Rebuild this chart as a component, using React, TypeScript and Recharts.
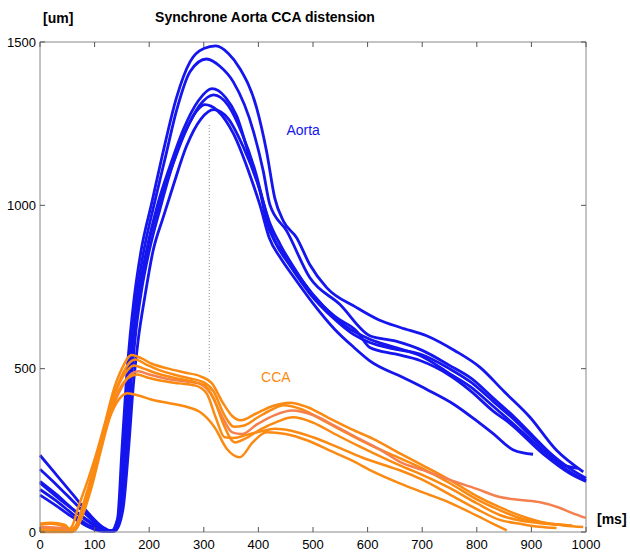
import React from 'react';
import { LineChart, Line, XAxis, YAxis, ReferenceLine, ReferenceDot } from 'recharts';

// [ms, um] points
const aortaA = [[0,150],[40,95],[80,45],[110,12],[130,2],[142,40],[150,250],[158,460],[165,600],[172,710],[185,860],[205,1010],[225,1160],[250,1330],[275,1440],[300,1480],[322,1488],[345,1465],[366,1419],[397,1297],[415,1165],[430,1022],[446,951],[470,901],[494,819],[525,748],[580,687],[620,650],[660,626],[708,601],[760,555],[806,504],[850,430],[897,352],[946,250],[995,184]];
const aortaB = [[0,235],[30,175],[60,115],[90,55],[115,15],[132,3],[144,50],[152,250],[160,470],[168,620],[178,740],[190,860],[210,1010],[230,1150],[250,1290],[275,1410],[305,1448],[330,1425],[354,1378],[391,1226],[409,1104],[421,1002],[452,921],[494,779],[549,697],[604,601],[650,585],[700,556],[750,510],[790,470],[830,410],[870,350],[920,265],[960,205],[985,195]];
const aortaC = [[0,192],[30,145],[60,95],[90,45],[115,10],[135,3],[148,60],[156,260],[164,480],[172,620],[182,740],[195,860],[215,1000],[238,1120],[262,1230],[290,1320],[315,1357],[340,1330],[360,1275],[385,1140],[403,1043],[415,950],[433,880],[458,815],[494,730],[537,655],[574,605],[604,580],[650,560],[696,545],[750,500],[788,460],[830,400],[861,355],[921,260],[970,195],[1000,165]];
const aortaD = [[0,113],[30,80],[60,45],[90,15],[115,2],[135,5],[150,80],[158,270],[166,480],[174,630],[184,750],[197,870],[218,1000],[240,1110],[265,1220],[292,1305],[318,1338],[345,1305],[370,1220],[395,1100],[412,990],[428,900],[450,845],[480,770],[520,690],[560,630],[604,590],[650,565],[696,540],[750,485],[788,445],[830,385],[861,340],[921,250],[970,185],[1000,158]];
const aortaE = [[0,155],[30,115],[60,70],[90,30],[115,6],[135,2],[150,70],[160,280],[168,480],[176,620],[186,740],[200,860],[220,990],[244,1130],[270,1240],[290,1295],[302,1308],[325,1290],[354,1220],[385,1090],[403,1000],[420,900],[440,840],[465,780],[500,700],[540,620],[575,565],[604,524],[665,473],[710,435],[757,392],[800,340],[830,301],[866,252],[885,242],[903,238]];
const aortaF = [[0,130],[30,95],[60,55],[90,20],[118,3],[138,5],[152,70],[162,250],[171,450],[180,590],[192,720],[207,860],[225,960],[244,1060],[268,1180],[295,1265],[318,1293],[345,1265],[372,1180],[400,1060],[420,950],[440,880],[465,810],[500,725],[540,660],[580,615],[604,565],[650,545],[696,525],[750,480],[788,433],[830,370],[861,332],[921,240],[970,180],[1000,155]];

const ccaA = [[0,22],[20,25],[40,20],[52,8],[58,15],[70,75],[90,170],[105,250],[120,340],[134,430],[150,500],[168,542],[185,532],[205,515],[235,500],[265,488],[295,476],[315,455],[335,395],[352,355],[368,342],[395,362],[425,385],[458,396],[490,382],[530,348],[570,315],[610,285],[659,241],[700,205],[750,160],[800,110],[842,76],[880,50],[920,30],[960,20],[995,15]];
const ccaB = [[0,12],[25,10],[50,6],[62,3],[70,20],[85,95],[100,190],[115,290],[130,390],[145,460],[160,510],[175,528],[192,515],[215,498],[245,482],[275,470],[300,458],[318,430],[337,360],[356,322],[372,325],[400,352],[425,375],[446,388],[480,375],[520,340],[565,300],[610,262],[659,226],[700,195],[750,150],[800,100],[842,67],[880,42],[920,28],[965,21]];
const ccaC = [[0,15],[25,14],[50,10],[60,4],[68,15],[85,100],[102,200],[118,300],[135,390],[152,450],[168,485],[180,492],[200,482],[230,470],[260,462],[290,455],[312,425],[333,355],[352,305],[370,300],[398,330],[430,358],[462,372],[500,358],[540,325],[585,285],[625,250],[659,215],[700,190],[750,160],[800,132],[842,107],[880,98],[916,91],[950,75],[975,58],[1000,43]];
const ccaD = [[0,5],[30,4],[55,2],[65,8],[80,70],[95,160],[110,250],[126,350],[142,425],[160,470],[178,482],[198,472],[225,462],[255,455],[285,448],[305,425],[322,350],[338,290],[355,288],[380,298],[405,308],[430,316],[460,310],[500,290],[545,260],[590,228],[630,205],[659,189],[700,160],[750,115],[800,70],[842,37],[880,25],[915,16],[946,12]];
const ccaE = [[0,0],[40,0],[58,0],[66,10],[80,60],[95,140],[110,240],[128,351],[144,405],[160,425],[180,418],[205,405],[235,395],[265,385],[295,365],[320,320],[342,255],[366,229],[390,275],[415,305],[450,300],[490,280],[530,250],[570,220],[610,185],[659,149],[700,122],[750,90],[800,50],[830,25],[855,5]];
const ccaF = [[0,25],[20,28],[45,22],[56,8],[64,15],[80,90],[96,180],[112,280],[128,380],[145,455],[160,495],[172,510],[190,500],[215,485],[245,472],[275,462],[300,450],[318,410],[336,330],[357,274],[375,285],[405,315],[435,338],[463,351],[500,335],[540,300],[585,262],[625,230],[659,204],[700,175],[750,135],[800,88],[842,52],[880,35],[920,26],[975,20]];

const xTicks = [0, 100, 200, 300, 400, 500, 600, 700, 800, 900, 1000];
const yTicks = [0, 500, 1000, 1500];
const markerMs = 310;
const markerRange = [490, 1250];

const aortaCurves = [aortaA, aortaB, aortaC, aortaD, aortaE, aortaF];
const ccaCurves = [ccaA, ccaB, ccaC, ccaD, ccaE, ccaF];
const ccaColors = ['#fb8a12', '#fb8a12', '#f4804f', '#fb8a12', '#fb8a12', '#fb8a12'];

const W = 630;
const H = 552;
const margin = { top: 42, right: 44, bottom: 0, left: 8 };
const Y_W = 32;
const X_H = 20;
const plotTop = margin.top;
const plotBottom = H - margin.bottom - X_H;
const plotLeft = margin.left + Y_W;
const plotRight = W - margin.right;

const BLUE = '#1515ee';
const FONT = '"Liberation Sans", Arial, sans-serif';

const toPoints = (pts: number[][]) => pts.map(([ms, um]) => ({ ms, um }));

const XTick = (props: any) => {
  const { x, y, payload } = props;
  return (
    <g>
      <line x1={x} x2={x} y1={plotBottom} y2={plotBottom - 5} stroke="#555" />
      <line x1={x} x2={x} y1={plotTop} y2={plotTop + 5} stroke="#555" />
      <text x={x} y={y} dy="0.71em" textAnchor="middle" fontSize={13} fill="#000" fontFamily={FONT}>
        {payload.value}
      </text>
    </g>
  );
};

const YTick = (props: any) => {
  const { x, y, payload } = props;
  return (
    <g>
      <line x1={plotLeft} x2={plotLeft + 5} y1={y} y2={y} stroke="#555" />
      <line x1={plotRight - 5} x2={plotRight} y1={y} y2={y} stroke="#555" />
      <text x={x} y={y} dy="0.355em" textAnchor="end" fontSize={13} fill="#000" fontFamily={FONT}>
        {payload.value}
      </text>
    </g>
  );
};

export default function App() {
  return (
    <div style={{ position: 'fixed', left: 0, top: 0, width: W, height: H, background: '#fff', fontFamily: FONT }}>
      <div style={{ position: 'absolute', left: 0, width: 530, top: 9, textAlign: 'center', fontSize: 14, fontWeight: 'bold' }}>
        Synchrone Aorta CCA distension
      </div>
      <div style={{ position: 'absolute', left: 43, top: 10, fontSize: 14, fontWeight: 'bold' }}>[um]</div>
      <div style={{ position: 'absolute', left: 597, top: 511, fontSize: 14, fontWeight: 'bold' }}>[ms]</div>
      <LineChart width={W} height={H} margin={margin}>
        <XAxis
          dataKey="ms"
          type="number"
          domain={[0, 1000]}
          ticks={xTicks}
          height={X_H}
          tickLine={false}
          tickSize={0}
          tickMargin={8}
          axisLine={{ stroke: '#888' }}
          tick={XTick}
        />
        <YAxis
          type="number"
          domain={[0, 1500]}
          ticks={yTicks}
          width={Y_W}
          tickLine={false}
          tickSize={0}
          tickMargin={4}
          axisLine={{ stroke: '#888' }}
          tick={YTick}
        />
        <ReferenceLine y={1500} stroke="#888" />
        <ReferenceLine x={1000} stroke="#888" />
        <ReferenceLine
          segment={[{ x: markerMs, y: markerRange[0] }, { x: markerMs, y: markerRange[1] }]}
          stroke="#888"
          strokeDasharray="1 2"
        />
        {aortaCurves.map((c, i) => (
          <Line
            key={'a' + i}
            data={toPoints(c)}
            dataKey="um"
            type="monotone"
            stroke={BLUE}
            strokeWidth={2.8}
            dot={false}
            isAnimationActive={false}
          />
        ))}
        {ccaCurves.map((c, i) => (
          <Line
            key={'c' + i}
            data={toPoints(c)}
            dataKey="um"
            type="monotone"
            stroke={ccaColors[i]}
            strokeWidth={2.5}
            dot={false}
            isAnimationActive={false}
          />
        ))}
        <ReferenceDot x={482} y={1229} r={0} fill="none" stroke="none"
          label={{ value: 'Aorta', position: 'center', fill: BLUE, fontSize: 14, fontFamily: FONT }} />
        <ReferenceDot x={432} y={473} r={0} fill="none" stroke="none"
          label={{ value: 'CCA', position: 'center', fill: '#fb8a12', fontSize: 14, fontFamily: FONT }} />
      </LineChart>
    </div>
  );
}
